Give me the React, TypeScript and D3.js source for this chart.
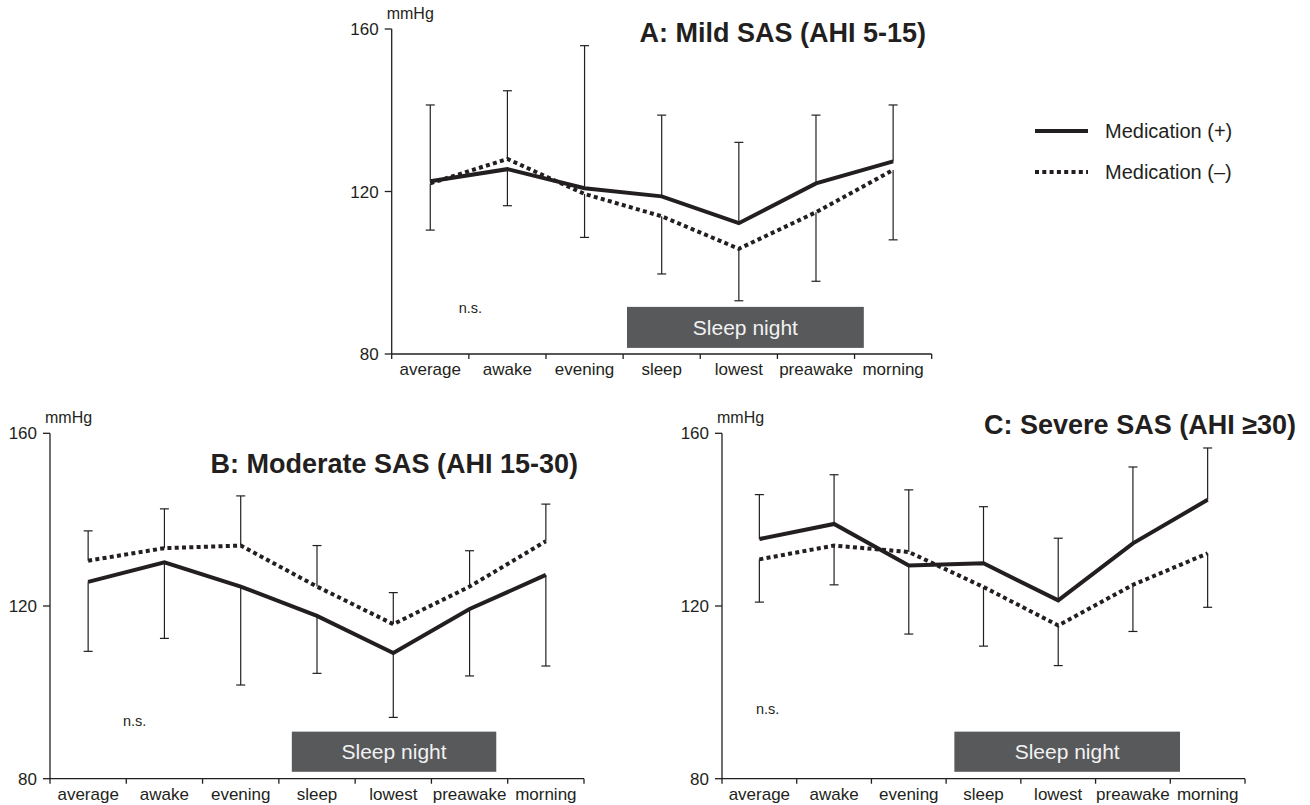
import * as d3 from "d3";

const categories = ["average", "awake", "evening", "sleep", "lowest", "preawake", "morning"];
const yTicks = [80, 120, 160];

// A: Mild SAS
const mildPlus = [122.5, 125.5, 120.8, 118.8, 112.2, 122.0, 127.4];
const mildMinus = [122.0, 128.0, 119.4, 113.9, 105.9, 114.9, 125.3];
const mildSdTop = [141.3, 144.8, 155.9, 138.8, 132.1, 138.8, 141.3];
const mildSdBottom = [110.5, 116.5, 108.7, 99.7, 93.1, 97.9, 108.1];

// B: Moderate SAS
const modPlus = [125.6, 130.1, 124.5, 117.7, 109.1, 119.3, 127.2];
const modMinus = [130.5, 133.4, 134.0, 124.5, 115.8, 124.5, 135.0];
const modSdTop = [137.4, 142.5, 145.5, 134.0, 123.1, 132.8, 143.6];
const modSdBottom = [109.5, 112.5, 101.7, 104.4, 94.2, 103.8, 106.1];

// C: Severe SAS
const sevPlus = [135.5, 139.0, 129.4, 129.9, 121.3, 134.5, 144.6];
const sevMinus = [130.8, 134.0, 132.5, 124.4, 115.5, 124.9, 132.2];
const sevSdTop = [145.8, 150.4, 146.9, 143.0, 135.7, 152.2, 156.6];
const sevSdBottom = [120.9, 124.9, 113.5, 110.7, 106.2, 114.1, 119.7];

const legendLabels = ["Medication (+)", "Medication (\u2013)"];

const ink = "#231f20";
const font = "'Liberation Sans', Arial, sans-serif";

type PanelProps = {
  title: string;
  plus: number[];
  minus: number[];
  sdTop: number[];
  sdBottom: number[];
  x0: number;
  x1: number;
  y160: number;
  y80: number;
  titleRight: number;
  titleY: number;
  ns: [number, number];
  box: [number, number, number, number];
};

function Panel(p: PanelProps) {
  const x = d3.scaleBand().domain(categories).range([p.x0, p.x1]);
  const xb = d3.scaleLinear().domain([0, 7]).range([p.x0, p.x1]);
  const y = d3.scaleLinear().domain([80, 160]).range([p.y80, p.y160]);
  const cx = (i: number) => (x(categories[i]) as number) + x.bandwidth() / 2;
  const line = d3
    .line<number>()
    .x((_, i) => cx(i))
    .y((d) => y(d));
  const cap = 4.5;

  return (
    <g fontFamily={font} fill={ink}>
      {/* axes */}
      <line x1={p.x0} x2={p.x0} y1={y(160)} y2={y(80)} stroke={ink} strokeWidth={1.3} />
      <line x1={p.x0} x2={p.x1} y1={y(80)} y2={y(80)} stroke={ink} strokeWidth={1.3} />
      {yTicks.map((t) => (
        <g key={t}>
          <line x1={p.x0 - 7} x2={p.x0} y1={y(t)} y2={y(t)} stroke={ink} strokeWidth={1.3} />
          <text x={p.x0 - 13} y={y(t)} dy="0.36em" textAnchor="end" fontSize={17}>
            {t}
          </text>
        </g>
      ))}
      {d3.range(8).map((i) => (
        <line key={i} x1={xb(i)} x2={xb(i)} y1={y(80)} y2={y(80) + 5} stroke={ink} strokeWidth={1.3} />
      ))}
      {categories.map((c, i) => (
        <text key={c} x={cx(i)} y={y(80) + 21} textAnchor="middle" fontSize={17}>
          {c}
        </text>
      ))}
      <text x={p.x0 - 5} y={y(160) - 10} fontSize={16}>
        mmHg
      </text>

      {/* sleep night box */}
      <rect
        x={xb(p.box[0])}
        width={xb(p.box[1]) - xb(p.box[0])}
        y={y(p.box[3])}
        height={y(p.box[2]) - y(p.box[3])}
        fill="#58595b"
      />
      <text
        x={(xb(p.box[0]) + xb(p.box[1])) / 2}
        y={(y(p.box[2]) + y(p.box[3])) / 2}
        dy="0.36em"
        textAnchor="middle"
        fontSize={21}
        fill="#f2f2f2"
      >
        Sleep night
      </text>

      <text x={xb(p.ns[0])} y={y(p.ns[1])} dy="0.36em" textAnchor="middle" fontSize={14.5}>
        n.s.
      </text>

      {/* error bars */}
      {categories.map((c, i) => {
        const hi = Math.max(p.plus[i], p.minus[i]);
        const lo = Math.min(p.plus[i], p.minus[i]);
        return (
          <g key={c} stroke={ink} strokeWidth={1.2}>
            <line x1={cx(i)} x2={cx(i)} y1={y(p.sdTop[i])} y2={y(hi)} />
            <line x1={cx(i) - cap} x2={cx(i) + cap} y1={y(p.sdTop[i])} y2={y(p.sdTop[i])} />
            <line x1={cx(i)} x2={cx(i)} y1={y(lo)} y2={y(p.sdBottom[i])} />
            <line x1={cx(i) - cap} x2={cx(i) + cap} y1={y(p.sdBottom[i])} y2={y(p.sdBottom[i])} />
          </g>
        );
      })}

      <path d={line(p.minus) ?? ""} fill="none" stroke={ink} strokeWidth={4} strokeDasharray="4,3.3" />
      <path d={line(p.plus) ?? ""} fill="none" stroke={ink} strokeWidth={4} strokeLinejoin="miter" />

      <text x={p.titleRight} y={p.titleY} textAnchor="end" fontSize={27} fontWeight="bold">
        {p.title}
      </text>
    </g>
  );
}

export default function App() {
  return (
    <svg
      width={1310}
      height={805}
      style={{ position: "absolute", left: 0, top: 0, background: "#fff" }}
    >
      <Panel
        title="A: Mild SAS (AHI 5-15)"
        plus={mildPlus}
        minus={mildMinus}
        sdTop={mildSdTop}
        sdBottom={mildSdBottom}
        x0={391.7}
        x1={931.7}
        y160={29}
        y80={354}
        titleRight={926}
        titleY={42}
        ns={[1.02, 91.3]}
        box={[3.05, 6.12, 81.5, 91.6]}
      />
      <Panel
        title="B: Moderate SAS (AHI 15-30)"
        plus={modPlus}
        minus={modMinus}
        sdTop={modSdTop}
        sdBottom={modSdBottom}
        x0={50}
        x1={584}
        y160={433.3}
        y80={778.7}
        titleRight={578}
        titleY={473}
        ns={[1.11, 93.4]}
        box={[3.17, 5.85, 81.6, 90.9]}
      />
      <Panel
        title={"C: Severe SAS (AHI \u226530)"}
        plus={sevPlus}
        minus={sevMinus}
        sdTop={sevSdTop}
        sdBottom={sevSdBottom}
        x0={722}
        x1={1245}
        y160={433.3}
        y80={778.7}
        titleRight={1296}
        titleY={434}
        ns={[0.61, 96.2]}
        box={[3.11, 6.13, 81.6, 90.9]}
      />

      {/* legend */}
      <g fontFamily={font} fill={ink}>
        {legendLabels.map((l, i) => (
          <g key={l}>
            <line
              x1={1035}
              x2={1088}
              y1={131 + i * 41}
              y2={131 + i * 41}
              stroke={ink}
              strokeWidth={4}
              strokeDasharray={i === 0 ? undefined : "4,3.3"}
            />
            <text x={1105} y={131 + i * 41} dy="0.36em" fontSize={20}>
              {l}
            </text>
          </g>
        ))}
      </g>
    </svg>
  );
}
